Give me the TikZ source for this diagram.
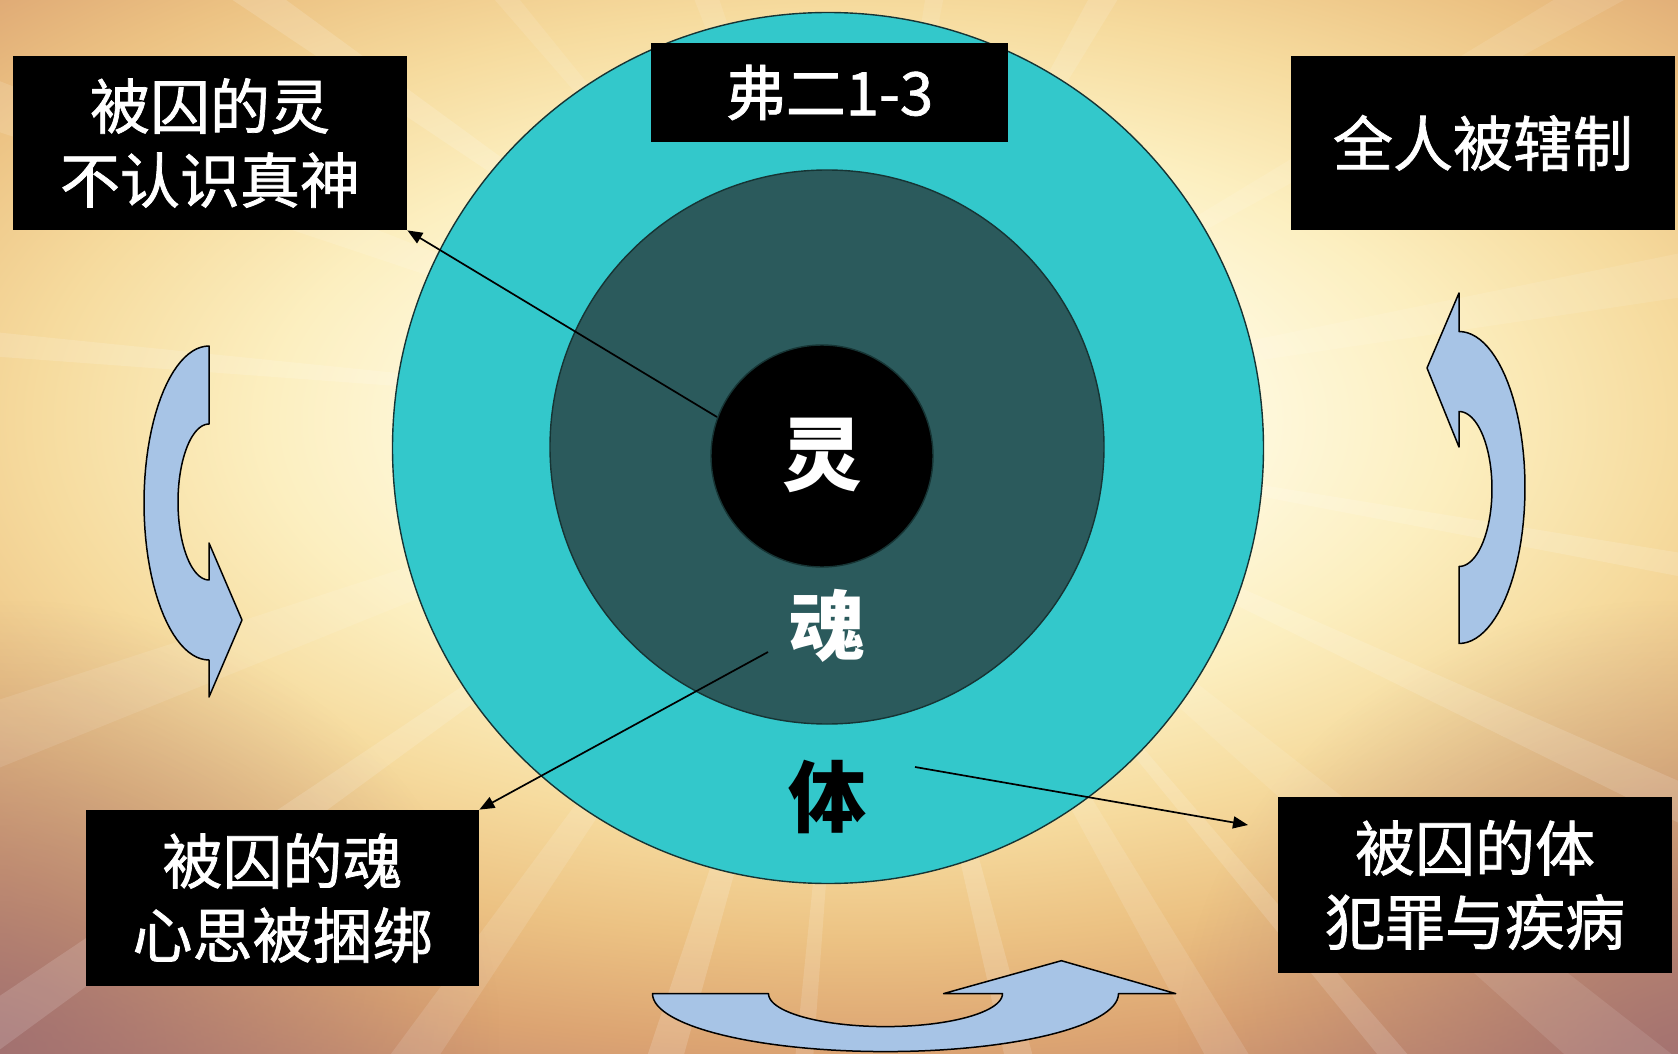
\documentclass[tikz,border=0pt]{standalone}
\usepackage{fontspec}
\setmainfont{Noto Sans CJK SC}
\newfontfamily\boxfont[FakeBold=1.2]{Noto Sans CJK SC}
\usetikzlibrary{arrows.meta,fadings}
\definecolor{c0}{HTML}{FFFEF6}
\definecolor{c1}{HTML}{FFFBE6}
\definecolor{c2}{HTML}{FCEFC0}
\definecolor{c3}{HTML}{F6DB9E}
\definecolor{c4}{HTML}{ECC283}
\definecolor{c5}{HTML}{DCA472}
\definecolor{c6}{HTML}{C08670}
\definecolor{c7}{HTML}{A6746E}
\definecolor{mauve}{HTML}{9A6C70}
\definecolor{tealo}{HTML}{33C8CB}
\definecolor{tealm}{HTML}{2B5A5C}
\definecolor{edge}{HTML}{163434}
\definecolor{arrowblue}{HTML}{A7C4E6}
\pgfdeclareradialshading{burst}{\pgfpoint{0bp}{0bp}}{color(0bp)=(c0); color(4bp)=(c1); color(7.4bp)=(c2); color(10.3bp)=(c3); color(13bp)=(c4); color(15.7bp)=(c5); color(18.5bp)=(c6); color(21.5bp)=(c7); color(50bp)=(c7)}
\tikzfading[name=cornerfade, inner color=transparent!0, outer color=transparent!100]
\tikzset{
  ring/.style={circle, draw=edge, line width=0.7pt, inner sep=0pt},
  box/.style={fill=black, text=white, inner sep=0pt, align=center, font=\boxfont\fontsize{30}{37}\selectfont},
  conn/.style={draw=black, line width=0.85pt, -{Triangle[length=7.5pt,width=6pt]}},
  barrow/.style={fill=arrowblue, draw=black, line width=0.75pt, line join=round},
  biglbl/.style={font=\bfseries\fontsize{40}{40}\selectfont, inner sep=0pt}
}
\begin{document}
\begin{tikzpicture}[x=0.5pt,y=-0.5pt]
\useasboundingbox (0,0) rectangle (1678,1054);
% background
\begin{scope}
\clip (0,0) rectangle (1678,1054);
\shade[shading=burst] (-1140,-580) rectangle (2860,1420);
\fill[mauve, path fading=cornerfade, fill opacity=0.75] (-500,600) rectangle (500,1500);
\fill[mauve, path fading=cornerfade, fill opacity=0.7] (1178,600) rectangle (2178,1500);
\foreach \a/\w/\o in {200/1.5/0.12, 215/1.2/0.15, 160/2/0.1, 145/1.2/0.14, 107/1.5/0.16, 76/1.2/0.16, 60/1.5/0.12, 40/2/0.1, 25/1.2/0.14, 350/1.5/0.1, 330/1.2/0.1, 300/1.5/0.12, 250/1.5/0.1, 125/1.5/0.12, 95/0.8/0.14, 185/0.8/0.14, 10/0.8/0.14, 230/1/0.1, 280/1.2/0.1, 50/0.8/0.14}
  \fill[white, opacity=\o, shift={(860,420)}] (0,0) -- (\a-\w:2400) -- (\a+\w:2400) -- cycle;
\end{scope}
% circles
\node[ring, fill=tealo, minimum size=435.5pt] (body) at (828,448) {};
\node[ring, fill=tealm, minimum size=277pt] (soul) at (827,447) {};
\node[ring, fill=black, minimum size=111pt] (spirit) at (822,456) {};
% labels in circles
\node[biglbl, text=white] (lling) at (822,455) {灵};
\node[biglbl, text=white, font=\bfseries\fontsize{38}{38}\selectfont] (lhun) at (827,626) {魂};
\node[biglbl, text=black, font=\bfseries\fontsize{39}{39}\selectfont] (lti) at (827,797) {体};
% boxes
\node[box, minimum width=197pt, minimum height=87pt] (b1) at (210,143) {被囚的灵\\不认识真神};
\node[box, minimum width=178.5pt, minimum height=49.5pt] (b2) at (829.5,92.5) {弗二1-3};
\node[box, minimum width=192pt, minimum height=87pt] (b3) at (1483,143) {全人被辖制};
\node[box, minimum width=196.5pt, minimum height=88pt] (b4) at (282.5,898) {被囚的魂\\心思被捆绑};
\node[box, minimum width=197pt, minimum height=88pt] (b5) at (1475,885) {被囚的体\\犯罪与疾病};
% connectors
\coordinate (s1) at (717,417);
\coordinate (s2) at (768,652);
\coordinate (s3) at (915,767);
\coordinate (e3) at (1248,825);
\draw[conn] (s1) -- (b1.south east);
\draw[conn] (s2) -- (b4.north east);
\draw[conn] (s3) -- (e3);
% curved arrows
\filldraw[barrow] (209,697) -- (209,660)
  -- plot[domain=0:180, samples=50] ({209+65*cos(90+\x)}, {503+157*sin(90+\x)})
  -- plot[domain=0:180, samples=50] ({209+31*cos(270-\x)}, {502+78*sin(270-\x)})
  -- (209,543) -- (242,620) -- cycle;
\filldraw[barrow] (1427,368) -- (1459,293) -- (1459,331.5)
  -- plot[domain=0:180, samples=50] ({1459+66*cos(270+\x)}, {487.5+156*sin(270+\x)})
  -- plot[domain=0:180, samples=50] ({1459+33*cos(90-\x)}, {489+77.5*sin(90-\x)})
  -- (1459,447) -- cycle;
\filldraw[barrow] (652.5,993.6)
  -- plot[domain=0:180, samples=60] ({885.5+233*cos(180-\x)}, {993.6+58*sin(180-\x)})
  -- (1175.7,993.6) -- (1061.4,960.7) -- (943.6,993.6)
  -- plot[domain=0:180, samples=60] ({885.5+117*cos(\x)}, {993.6+33*sin(\x)})
  -- cycle;
\end{tikzpicture}
\end{document}
